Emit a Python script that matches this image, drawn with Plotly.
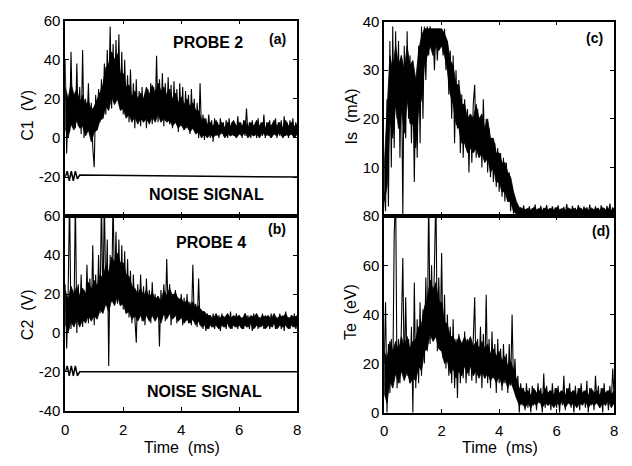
import plotly.graph_objects as go

W, H = 632, 466
DT = 0.05   # sampling step of the spiky traces (ms)
DTB = 0.1   # sampling step of the dense-band envelopes (ms)

# ---- Data ----
# Spiky traces, every 0.05 ms from 0 to 8 ms
c1_probe2 = [
    40, -8, 18, 3, 44, 8, 22, 5, 38, 6, 26, 2, 45, 0, 20, 5, 28, 2, 18, -5,
    -15, 22, 4, 25, 8, 30, 10, 38, 12, 45, 18, 57, 15, 48, 20, 50, 22, 53, 16, 44,
    12, 40, 14, 32, 8, 35, 10, 28, 5, 30, 8, 24, 6, 26, 8, 22, 5, 25, 9, 28,
    7, 26, 10, 42, 8, 30, 9, 33, 6, 28, 10, 31, 7, 27, 5, 29, 8, 25, 3, 28,
    6, 26, 4, 24, 5, 22, 2, 25, 6, 20, 3, 18, 0, 28, 2, 12, -1, 10, 2, 12,
    0, 9, -2, 10, 1, 8, 0, 10, 2, 8, 1, 9, 0, 10, 2, 8, 1, 7, 0, 11,
    2, 8, 0, 9, 1, 15, 2, 8, 0, 9, 1, 7, 0, 10, 2, 8, 1, 12, 0, 8,
    1, 9, 0, 7, 2, 10, 0, 8, 1, 9, 0, 11, 1, 8, 0, 9, 2, 10, 0, 8,
    2,
]
c2_probe4 = [
    25, -8, 20, 70, 2, 22, 5, 70, 0, 25, 6, 30, 3, 22, 8, 35, 5, 28, 10, 45,
    4, 30, 8, 40, 10, 70, 12, 70, 15, 48, -17, 40, 16, 70, 20, 52, 15, 48, 14, 45,
    12, 42, 10, 38, 8, 32, 5, 30, 8, -5, 25, 8, 30, 6, 24, 4, 28, 8, 22, 5,
    26, 10, 20, 8, 18, -7, 22, 8, 25, 6, 38, 10, 25, 4, 20, 8, 22, 5, 18, 7,
    20, 4, 18, 6, 20, 5, 16, 4, 35, 6, 15, 3, 28, 4, 12, 2, 10, 1, 10, 2,
    9, 3, 10, 2, 8, 3, 9, 1, 10, 3, 8, 2, 9, 3, 11, 2, 8, 3, 10, 2,
    9, 3, 8, 2, 10, 3, 9, 2, 8, 1, 10, 3, 9, 2, 8, 3, 10, 2, 9, 3,
    8, 2, 10, 3, 9, 2, 8, 3, 10, 2, 9, 1, 11, 3, 8, 2, 9, 3, 10, 2,
    6,
]
is_ma = [
    5, 1, 24, 2, 36, 10, 39, 14, 38, 20, 36, 12, 33, 0, 35, 16, 38, 20, 33, 15,
    30, 7, 28, 12, 35, 15, 39, 20, 39, 28, 39, 33, 39, 35, 38.5, 30, 38.5, 32, 38.5, 35,
    38.5, 33, 38.5, 30, 36, 25, 34, 20, 33, 15, 30, 18, 28, 13, 25, 12, 24, 14, 22, 9,
    21, 11, 23, 27, 12, 22, 13, 20, 10, 24, 12, 20, 9, 18, 8, 16, 7, 15, 6, 14,
    5, 13, 4, 12, 3, 11, 3, 9, 1, 6, 0.5, 3, 0, 2, 0.3, 1.8, 0.2, 2.2, 0.4, 1.5,
    0.3, 2, 0.5, 1.6, 0.2, 2.4, 0.4, 1.5, 0.3, 2.1, 0.5, 1.7, 0.2, 2.3, 0.4, 1.6, 0.3, 2, 0.5, 1.8,
    0.3, 2.2, 0.4, 1.5, 0.2, 1.9, 0.5, 2.5, 0.3, 1.6, 0.4, 2.1, 0.2, 1.7, 0.5, 2.3, 0.3, 1.6, 0.4, 2,
    0.2, 1.8, 0.5, 2.4, 0.3, 1.5, 0.4, 2, 0.2, 1.7, 0.5, 2.2, 0.3, 1.6, 0.4, 2.1, 0.2, 2.6, 0.4, 1.8,
    1,
]
te_ev = [
    20, 45, 0, 28, 8, 30, 12, 72, 90, 10, 30, 12, 35, 63, 14, 47, 15, 30, 12, 35,
    0, 53, 10, 38, 12, 45, 15, 42, 20, 55, 25, 90, 28, 60, 30, 58, 90, 25, 55, 30,
    65, 22, 48, 18, 40, 15, 35, 12, 38, 10, 30, 6, 32, 12, 28, 14, 33, 12, 30, 15,
    28, 13, 33, 47, 12, 30, 15, 35, 10, 32, 14, 48, 12, 30, 10, 33, 14, 28, 8, 30,
    12, 26, 9, 28, 12, 24, 8, 28, 11, 40, 10, 22, 6, 15, 0, 12, 3, 10, 1, 12,
    2, 10, 0, 11, 3, 9, 1, 12, 4, 10, 0, 16, 2, 11, 3, 9, 1, 12, 4, 10,
    2, 11, 0, 9, 3, 15, 1, 10, 4, 12, 2, 9, 0, 11, 3, 10, 1, 12, 4, 9,
    2, 13, 0, 10, 3, 9, 1, 15, 4, 11, 2, 10, 0, 12, 3, 9, 1, 11, 4, 18,
    6,
]

# Dense (solid-looking) band of each signal: lower / upper edge, every 0.1 ms
c1_lo = [5, 0, 7, 4, 9, 5, 6, 1, 4, -2,
         3, 4, 9, 10, 16, 14, 21, 17, 20, 14,
         15, 10, 12, 8, 11, 7, 10, 8, 10, 7,
         11, 8, 12, 8, 10, 8, 9, 6, 8, 5,
         7, 4, 6, 3, 5, 2, 3, 0, 2, 0,
         2, 0, 2, 1, 3, 0, 2, 1, 2, 0,
         2, 1, 3, 0, 2, 1, 2, 0, 3, 1,
         2, 0, 2, 1, 3, 0, 2, 1, 2, 0,
         2]
c1_hi = [26, 20, 28, 22, 25, 18, 22, 17, 19, 14,
         16, 20, 24, 27, 36, 38, 44, 40, 43, 33,
         33, 26, 27, 21, 24, 20, 23, 20, 26, 22,
         27, 23, 28, 24, 26, 22, 25, 20, 23, 18,
         21, 17, 20, 16, 18, 14, 14, 9, 10, 7,
         8, 6, 9, 6, 8, 5, 8, 6, 9, 6,
         8, 6, 9, 5, 8, 6, 9, 6, 8, 5,
         8, 6, 9, 6, 8, 5, 9, 6, 8, 6,
         7]
c2_lo = [5, 0, 6, 3, 7, 3, 7, 5, 9, 6,
         9, 7, 12, 10, 15, 11, 17, 14, 19, 14,
         15, 10, 11, 7, 9, 6, 9, 6, 9, 6,
         9, 6, 9, 5, 10, 7, 10, 7, 9, 6,
         8, 5, 7, 5, 7, 4, 6, 3, 4, 2,
         4, 3, 4, 2, 4, 3, 5, 2, 4, 3,
         4, 2, 4, 3, 5, 2, 4, 3, 4, 2,
         4, 3, 5, 2, 4, 3, 4, 2, 4, 3,
         4]
c2_hi = [22, 17, 24, 20, 24, 19, 23, 20, 26, 22,
         27, 24, 30, 28, 35, 31, 39, 36, 41, 36,
         36, 30, 29, 24, 23, 20, 23, 19, 22, 18,
         21, 17, 19, 16, 22, 19, 23, 19, 21, 17,
         18, 15, 17, 14, 16, 13, 14, 11, 11, 9,
         9, 7, 10, 7, 9, 8, 10, 7, 9, 8,
         9, 7, 10, 7, 9, 8, 10, 7, 9, 8,
         9, 7, 10, 7, 9, 8, 10, 7, 9, 8,
         9]
is_lo = [3, 6, 20, 16, 23, 18, 22, 17, 24, 19,
         19, 14, 22, 24, 31, 33, 35, 33, 35, 34,
         35, 33, 30, 25, 23, 19, 18, 15, 15, 13,
         14, 13, 14, 12, 13, 11, 12, 9, 10, 7,
         7, 5, 5, 3, 3, 1, 0.5, 0.3, 0.4, 0.2,
         0.4, 0.2, 0.4, 0.3, 0.4, 0.2, 0.4, 0.3, 0.4, 0.2,
         0.4, 0.2, 0.4, 0.3, 0.4, 0.2, 0.4, 0.3, 0.4, 0.2,
         0.4, 0.2, 0.4, 0.3, 0.4, 0.2, 0.4, 0.3, 0.4, 0.2,
         0.4]
is_hi = [10, 22, 33, 30, 35, 31, 33, 30, 35, 31,
         32, 28, 34, 37, 38.5, 38.5, 38.5, 38.5, 38.5, 38.5,
         38.5, 37.5, 36, 32, 31, 27, 27, 23, 23, 20,
         21, 20, 23, 20, 21, 18, 20, 16, 16, 13,
         13, 11, 11, 9, 8, 5, 3, 1.8, 1.6, 1.3,
         1.6, 1.2, 1.8, 1.3, 1.6, 1.2, 1.7, 1.3, 1.6, 1.2,
         1.8, 1.3, 1.6, 1.2, 1.7, 1.3, 1.6, 1.2, 1.8, 1.3,
         1.6, 1.2, 1.7, 1.3, 1.6, 1.2, 1.8, 1.3, 1.6, 1.2,
         1.6]
te_lo = [8, 4, 13, 10, 16, 12, 17, 13, 17, 12,
         14, 13, 19, 17, 25, 26, 32, 29, 31, 26,
         25, 20, 21, 16, 18, 14, 17, 15, 19, 16,
         19, 15, 17, 14, 17, 14, 16, 13, 15, 12,
         15, 11, 14, 10, 13, 9, 6, 3, 4, 2,
         4, 2, 4, 3, 5, 2, 4, 3, 4, 2,
         4, 3, 5, 2, 4, 3, 4, 2, 4, 3,
         5, 2, 4, 3, 4, 2, 4, 3, 5, 2,
         4]
te_hi = [25, 22, 29, 25, 29, 25, 31, 27, 31, 26,
         29, 30, 35, 36, 43, 46, 54, 50, 53, 45,
         45, 37, 36, 31, 31, 28, 31, 28, 31, 28,
         31, 27, 29, 26, 29, 26, 28, 24, 26, 23,
         25, 21, 23, 19, 21, 17, 14, 10, 10, 8,
         9, 7, 10, 8, 9, 7, 10, 8, 9, 7,
         10, 8, 9, 7, 10, 8, 9, 7, 10, 8,
         9, 7, 10, 8, 9, 7, 10, 8, 9, 7,
         9]

noise_t = [0, 0.07, 0.14, 0.21, 0.28, 0.35, 0.42, 0.5, 8]
noise_a = [-20, -17, -22, -17, -22, -17, -21, -19, -20]
noise_b = [-20, -17, -22, -17, -22, -17, -22, -20, -20]

x_ticks = [0, 2, 4, 6, 8]
x_ticktext = ["0", "2", "4", "6", "8"]
ya_vals = [-20, 0, 20, 40, 60]
ya_text = ["-20", "0", "20", "40", "60"]
yb_vals = [-40, -20, 0, 20, 40, 60]
yb_text = ["-40", "-20", "0", "20", "40", "60"]
yc_vals = [10, 20, 30, 40]
yd_vals = [0, 20, 40, 60, 80]


def px(x):
    return x / W


def py(y):
    return 1 - y / H


fig = go.Figure()
LINE = dict(color="black", width=1.1)


def add_band(lo, hi, xa, ya):
    fig.add_trace(go.Scatter(y=lo, x0=0, dx=DTB, mode="lines", line=dict(width=0.8, color="black"),
                             xaxis=xa, yaxis=ya, hoverinfo="skip"))
    fig.add_trace(go.Scatter(y=hi, x0=0, dx=DTB, mode="lines", line=dict(width=0.8, color="black"),
                             fill="tonexty", fillcolor="black", xaxis=xa, yaxis=ya, hoverinfo="skip"))


add_band(c1_lo, c1_hi, "x", "y")
fig.add_trace(go.Scatter(y=c1_probe2, x0=0, dx=DT, mode="lines", line=LINE, xaxis="x", yaxis="y"))
fig.add_trace(go.Scatter(x=noise_t, y=noise_a, mode="lines", line=dict(color="black", width=1.5), xaxis="x", yaxis="y"))

add_band(c2_lo, c2_hi, "x2", "y2")
fig.add_trace(go.Scatter(y=c2_probe4, x0=0, dx=DT, mode="lines", line=LINE, xaxis="x2", yaxis="y2"))
fig.add_trace(go.Scatter(x=noise_t, y=noise_b, mode="lines", line=dict(color="black", width=1.5), xaxis="x2", yaxis="y2"))

add_band(is_lo, is_hi, "x3", "y3")
fig.add_trace(go.Scatter(y=is_ma, x0=0, dx=DT, mode="lines", line=LINE, xaxis="x3", yaxis="y3"))

add_band(te_lo, te_hi, "x4", "y4")
fig.add_trace(go.Scatter(y=te_ev, x0=0, dx=DT, mode="lines", line=LINE, xaxis="x4", yaxis="y4"))

TF = dict(family="Liberation Sans, Arial, sans-serif", size=15, color="black")
common = dict(showline=True, linecolor="black", linewidth=1.5, mirror="ticks",
              ticks="inside", ticklen=4, tickwidth=1, tickcolor="black",
              showgrid=False, zeroline=False, tickfont=TF)

L = [px(62), px(297)]
R = [px(385), px(618)]


def xa(dom, anchor, labels):
    return dict(domain=dom, anchor=anchor, range=[0, 8], tickvals=x_ticks, ticktext=x_ticktext,
                showticklabels=labels, ticklabelstandoff=4, **common)


def ya(dom, anchor, rng, vals, text=None):
    d = dict(domain=dom, anchor=anchor, range=rng, tickvals=vals, **common)
    if text is not None:
        d["ticktext"] = text
    return d


fig.update_layout(
    width=W, height=H, margin=dict(l=0, r=0, t=0, b=0),
    paper_bgcolor="white", plot_bgcolor="white", showlegend=False,
    xaxis=xa(L, "y", False),
    yaxis=ya([py(215), py(12)], "x", [-40, 60], ya_vals, ya_text),
    xaxis2=xa(L, "y2", True),
    yaxis2=ya([py(417), py(215)], "x2", [-40, 60], yb_vals, yb_text),
    xaxis3=xa(R, "y3", False),
    yaxis3=ya([py(215), py(13)], "x3", [0, 40], yc_vals),
    xaxis4=xa(R, "y4", True),
    yaxis4=ya([py(419), py(215)], "x4", [0, 80], yd_vals),
)

AF = dict(family="Liberation Sans, Arial, sans-serif", size=16, color="black")
BF = dict(family="Liberation Sans, Arial, sans-serif", size=16, color="black")
SF = dict(family="Liberation Sans, Arial, sans-serif", size=14, color="black")


def ann(text, x, y, font, angle=0):
    fig.add_annotation(text=text, x=px(x), y=py(y), xref="paper", yref="paper",
                       showarrow=False, font=font, textangle=angle,
                       xanchor="center", yanchor="middle", borderpad=0)


ann("C1  (V)", 24, 110, AF, -90)
ann("C2  (V)", 24, 317, AF, -90)
ann("Is  (mA)", 352, 112, AF, -90)
ann("Te  (eV)", 351, 315, AF, -90)
ann("Time  (ms)", 180, 455, AF)
ann("Time  (ms)", 502, 455, AF)
ann("<b>PROBE 2</b>", 207, 35, BF)
ann("<b>PROBE 4</b>", 210, 242, BF)
ann("<b>NOISE SIGNAL</b>", 205, 193, BF)
ann("<b>NOISE SIGNAL</b>", 203, 397, BF)
ann("<b>(a)</b>", 277, 31, SF)
ann("<b>(b)</b>", 277, 228, SF)
ann("<b>(c)</b>", 598, 30, SF)
ann("<b>(d)</b>", 605, 230, SF)

fig.write_html("out.html")
